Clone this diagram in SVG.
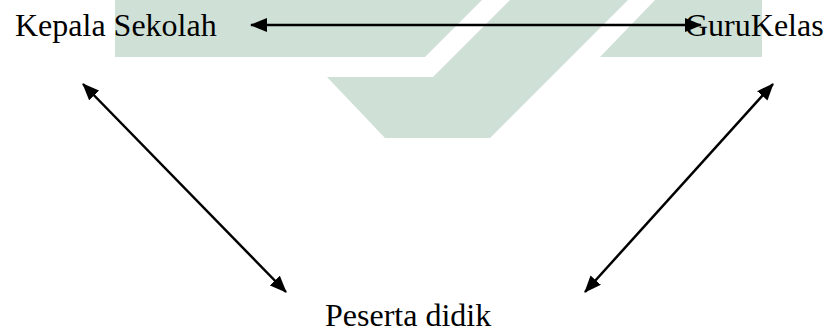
<svg xmlns="http://www.w3.org/2000/svg" width="824" height="333" viewBox="0 0 824 333">
  <style>
    .wm { fill: #cfe0d7; }
    .lbl { font-family: "Liberation Serif", "Times New Roman", serif; font-size: 32px; fill: #000; }
    .conn { stroke: #000; stroke-width: 2.5; fill: none; marker-start: url(#ah); marker-end: url(#ah); }
  </style>
  <defs>
    <marker id="ah" viewBox="0 0 17 14" refX="16" refY="7" markerWidth="17" markerHeight="14" markerUnits="userSpaceOnUse" orient="auto-start-reverse">
      <path d="M0,0 L17,7 L0,14 z" fill="#000"/>
    </marker>
  </defs>
  <rect width="824" height="333" fill="#ffffff"/>
  <g id="watermark">
    <polygon class="wm" points="115,0 482,0 425,57 115,57"/>
    <polygon class="wm" points="327,77 433,77 510,0 628,0 490,138 385,138"/>
    <polygon class="wm" points="655,0 762,0 762,57 600,57"/>
  </g>
  <g id="connectors">
    <line class="conn" x1="251" y1="25" x2="701" y2="25"/>
    <line class="conn" x1="83" y1="84" x2="286" y2="292"/>
    <line class="conn" x1="773" y1="84" x2="585" y2="292"/>
  </g>
  <g id="kepala-sekolah">
    <text class="lbl" x="15" y="36">Kepala Sekolah</text>
  </g>
  <g id="guru-kelas">
    <text class="lbl" x="685" y="36">GuruKelas</text>
  </g>
  <g id="peserta-didik">
    <text class="lbl" x="325" y="326">Peserta didik</text>
  </g>
</svg>
